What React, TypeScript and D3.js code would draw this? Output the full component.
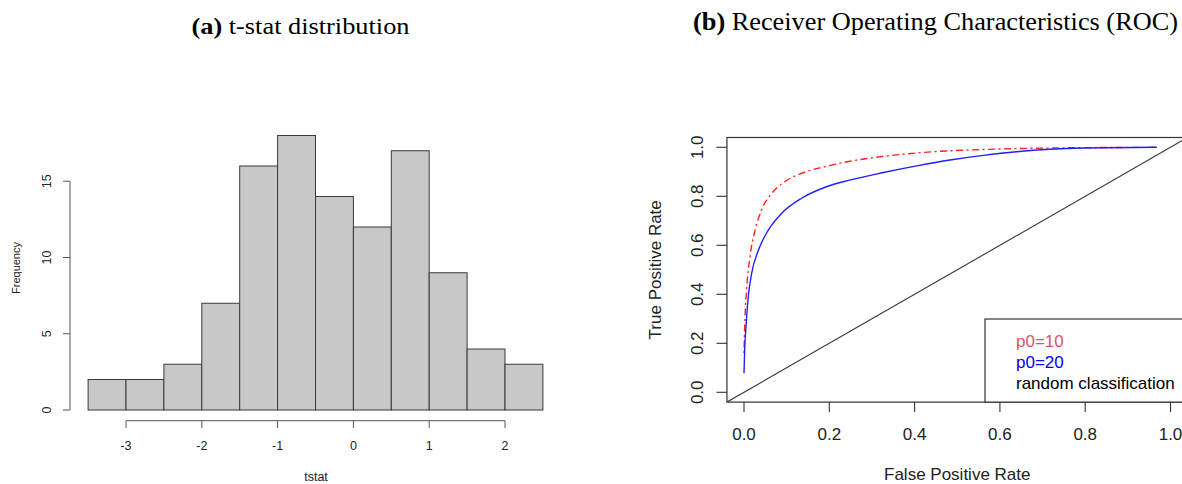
import React from "react";
import * as d3 from "d3";

const histEdges = [-3.5, -3, -2.5, -2, -1.5, -1, -0.5, 0, 0.5, 1, 1.5, 2, 2.5];
const histCounts = [2, 2, 3, 7, 16, 18, 14, 12, 17, 9, 4, 3];
const histXTicks = [-3, -2, -1, 0, 1, 2];
const histYTicks = [0, 5, 10, 15];

const fprBlue = [0, 0.0015, 0.0047, 0.01, 0.018, 0.034, 0.057, 0.088, 0.135, 0.19, 0.245, 0.327, 0.405, 0.483, 0.561, 0.639, 0.717, 0.796, 0.968];
const tprBlue = [0.078, 0.17, 0.268, 0.39, 0.486, 0.581, 0.662, 0.73, 0.792, 0.837, 0.865, 0.897, 0.924, 0.948, 0.967, 0.982, 0.992, 0.997, 1.0];
const fprRed = [0, 0.002, 0.006, 0.014, 0.026, 0.041, 0.065, 0.096, 0.135, 0.19, 0.245, 0.327, 0.405, 0.561, 0.717, 0.968];
const tprRed = [0.16, 0.29, 0.418, 0.553, 0.662, 0.744, 0.812, 0.86, 0.894, 0.921, 0.942, 0.963, 0.977, 0.991, 0.997, 1.0];
const rocTicks = [0, 0.2, 0.4, 0.6, 0.8, 1.0];
const legendLabels = ["p0=10", "p0=20", "random classification"];
const legendColors = ["#DF536B", "#0000FF", "#000000"];

const SANS = "'Liberation Sans', Arial, Helvetica, sans-serif";
const SERIF = "'Liberation Serif', 'Times New Roman', serif";

export default function App() {
  // histogram scales
  const hx = d3.scaleLinear().domain([-3, 2]).range([126, 505]);
  const hy = d3.scaleLinear().domain([0, 15]).range([410, 181.25]);
  // ROC scales
  const rx = d3.scaleLinear().domain([0, 1]).range([744, 1170.5]);
  const ry = d3.scaleLinear().domain([0, 1]).range([392.3, 147.3]);
  const boxL = rx(-0.04), boxR = rx(1.04), boxT = ry(1.04), boxB = ry(-0.04);

  const line = d3
    .line<[number, number]>()
    .x((d) => rx(d[0]))
    .y((d) => ry(d[1]))
    .curve(d3.curveMonotoneX);
  const bluePath = line(fprBlue.map((f, i) => [f, tprBlue[i]] as [number, number])) || "";
  const redPath = line(fprRed.map((f, i) => [f, tprRed[i]] as [number, number])) || "";

  const axisCol = "#555";

  return (
    <svg
      width={1182}
      height={484}
      style={{ position: "absolute", left: 0, top: 0, background: "#fff" }}
    >
      <rect x={0} y={0} width={1182} height={484} fill="#fff" />
      {/* Titles */}
      <text x={191.5} y={34} fontFamily={SERIF} fontSize={24} textLength={218} lengthAdjust="spacingAndGlyphs" fill="#000">
        <tspan fontWeight="bold">(a)</tspan> t-stat distribution
      </text>
      <text x={693} y={30} fontFamily={SERIF} fontSize={25.5} textLength={485} lengthAdjust="spacingAndGlyphs" fill="#000">
        <tspan fontWeight="bold">(b)</tspan> Receiver Operating Characteristics (ROC)
      </text>

      {/* Histogram */}
      <g>
        {histCounts.map((c, i) => (
          <rect
            key={i}
            x={hx(histEdges[i])}
            y={hy(c)}
            width={hx(histEdges[i + 1]) - hx(histEdges[i])}
            height={hy(0) - hy(c)}
            fill="#C8C8C8"
            stroke="#3a3a3a"
            strokeWidth={1}
          />
        ))}
        {/* y axis */}
        <line x1={70} x2={70} y1={hy(0)} y2={hy(15)} stroke={axisCol} strokeWidth={1} />
        {histYTicks.map((t) => (
          <g key={t}>
            <line x1={63} x2={70} y1={hy(t)} y2={hy(t)} stroke={axisCol} strokeWidth={1} />
            <text
              transform={`translate(51,${hy(t)}) rotate(-90)`}
              textAnchor="middle"
              fontFamily={SANS}
              fontSize={12.5}
              fill="#222"
            >
              {t}
            </text>
          </g>
        ))}
        <text
          transform={`translate(20,268) rotate(-90)`}
          textAnchor="middle"
          fontFamily={SANS}
          fontSize={11}
          fill="#222"
        >
          Frequency
        </text>
        {/* x axis */}
        <line x1={hx(-3)} x2={hx(2)} y1={420.7} y2={420.7} stroke={axisCol} strokeWidth={1} />
        {histXTicks.map((t) => (
          <g key={t}>
            <line x1={hx(t)} x2={hx(t)} y1={420.7} y2={428} stroke={axisCol} strokeWidth={1} />
            <text x={hx(t)} y={450} textAnchor="middle" fontFamily={SANS} fontSize={12.5} fill="#222">
              {t}
            </text>
          </g>
        ))}
        <text x={316} y={481} textAnchor="middle" fontFamily={SANS} fontSize={12.5} fill="#222">
          tstat
        </text>
      </g>

      {/* ROC */}
      <g>
        <defs>
          <clipPath id="rocClip">
            <rect x={boxL} y={boxT} width={boxR - boxL} height={boxB - boxT} />
          </clipPath>
        </defs>
        <g clipPath="url(#rocClip)">
          <line x1={rx(-0.04)} y1={ry(-0.04)} x2={rx(1.04)} y2={ry(1.04)} stroke="#333" strokeWidth={1.1} />
          <path d={redPath} fill="none" stroke="#FF2020" strokeWidth={1.4} strokeDasharray="2,3.5,7,3.5" />
          <path d={bluePath} fill="none" stroke="#2020FF" strokeWidth={1.4} />
        </g>
        <rect x={boxL} y={boxT} width={boxR - boxL} height={boxB - boxT} fill="none" stroke="#333" strokeWidth={1.2} />
        {rocTicks.map((t) => (
          <g key={"y" + t}>
            <line x1={boxL - 10.5} x2={boxL} y1={ry(t)} y2={ry(t)} stroke="#333" strokeWidth={1.1} />
            <text
              transform={`translate(703,${ry(t)}) rotate(-90)`}
              textAnchor="middle"
              fontFamily={SANS}
              fontSize={17}
              fill="#222"
            >
              {t.toFixed(1)}
            </text>
          </g>
        ))}
        {rocTicks.map((t) => (
          <g key={"x" + t}>
            <line x1={rx(t)} x2={rx(t)} y1={boxB} y2={boxB + 10} stroke="#333" strokeWidth={1.1} />
            <text x={rx(t)} y={440} textAnchor="middle" fontFamily={SANS} fontSize={17} fill="#222">
              {t.toFixed(1)}
            </text>
          </g>
        ))}
        <text
          transform={`translate(661,${ry(0.5)}) rotate(-90)`}
          textAnchor="middle"
          fontFamily={SANS}
          fontSize={17}
          fill="#222"
        >
          True Positive Rate
        </text>
        <text x={rx(0.5)} y={480} textAnchor="middle" fontFamily={SANS} fontSize={17} fill="#222">
          False Positive Rate
        </text>
        {/* legend */}
        <rect x={985} y={319} width={boxR - 985} height={boxB - 319} fill="#fff" stroke="#333" strokeWidth={1.2} />
        {legendLabels.map((l, i) => (
          <text key={l} x={1016} y={346.5 + i * 21} fontFamily={SANS} fontSize={17} fill={legendColors[i]}>
            {l}
          </text>
        ))}
      </g>
    </svg>
  );
}
